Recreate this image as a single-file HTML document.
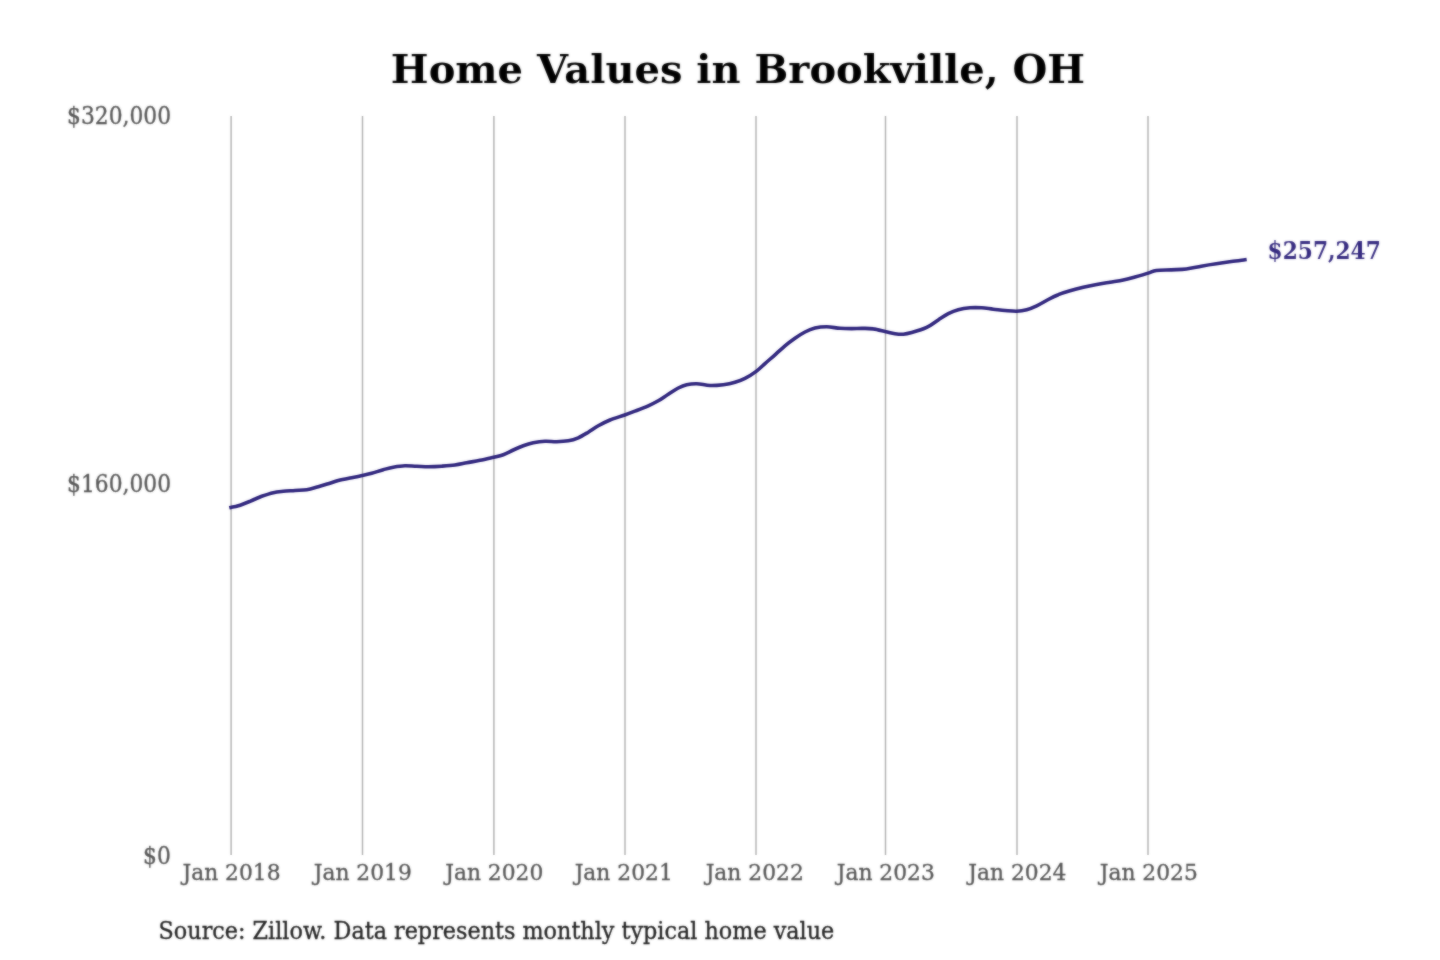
<!DOCTYPE html>
<html lang="en">
<head>
<meta charset="utf-8">
<title>Home Values in Brookville, OH</title>
<style>
html,body{margin:0;padding:0;background:#fff;}
body{width:1440px;height:960px;overflow:hidden;position:relative;font-family:"DejaVu Serif","Liberation Serif",serif;}
svg{position:absolute;left:0;top:0;display:block;}
svg text{font-family:"DejaVu Serif","Liberation Serif",serif;}
.title{font-size:40px;font-weight:bold;fill:#000;text-anchor:middle;}
.grid line{stroke:#b4b4b4;stroke-width:1.5;}

.xl text{font-size:21.8px;fill:#555;text-anchor:middle;stroke:#555;stroke-width:0.3;}
.yl text{font-size:21.8px;fill:#555;text-anchor:end;stroke:#555;stroke-width:0.3;}
.val{font-size:21.7px;font-weight:bold;fill:#34297f;}
.src{font-size:22.3px;fill:#222;stroke:#222;stroke-width:0.3;}
.series{fill:none;stroke:#30267e;stroke-width:3.6;stroke-linejoin:round;stroke-linecap:square;}
</style>
</head>
<body>
<svg width="1440" height="960" viewBox="0 0 1440 960">
<rect width="1440" height="960" fill="#ffffff"/>
<defs>
<filter id="fg" filterUnits="userSpaceOnUse" x="0" y="0" width="1440" height="960" color-interpolation-filters="sRGB"><feGaussianBlur stdDeviation="1" result="b"/><feComposite in="SourceGraphic" in2="b" operator="arithmetic" k1="0" k2="0.55" k3="0.45" k4="0"/></filter>
<filter id="fl" filterUnits="userSpaceOnUse" x="0" y="0" width="1440" height="960" color-interpolation-filters="sRGB"><feGaussianBlur stdDeviation="1" result="b"/><feComposite in="SourceGraphic" in2="b" operator="arithmetic" k1="0" k2="0.55" k3="0.45" k4="0"/></filter>
<filter id="bt" filterUnits="userSpaceOnUse" x="0" y="0" width="1440" height="960" color-interpolation-filters="sRGB"><feGaussianBlur stdDeviation="1" result="b"/><feComposite in="SourceGraphic" in2="b" operator="arithmetic" k1="0" k2="0.45" k3="0.55" k4="0"/></filter>
</defs>
<g class="grid" filter="url(#fg)">
<line x1="231.1" y1="116" x2="231.1" y2="855"/>
<line x1="362.5" y1="116" x2="362.5" y2="855"/>
<line x1="493.9" y1="116" x2="493.9" y2="855"/>
<line x1="625.0" y1="116" x2="625.0" y2="855"/>
<line x1="756.0" y1="116" x2="756.0" y2="855"/>
<line x1="885.5" y1="116" x2="885.5" y2="855"/>
<line x1="1017.0" y1="116" x2="1017.0" y2="855"/>
<line x1="1148.0" y1="116" x2="1148.0" y2="855"/>
</g>
<path class="series" filter="url(#fl)" d="M231.0,507.4C232.2,507.1 235.1,506.8 238.3,505.8C241.5,504.8 246.1,502.9 250.0,501.3C253.9,499.7 257.8,497.7 261.7,496.3C265.6,494.9 269.7,493.5 273.3,492.7C276.9,491.9 279.7,491.7 283.3,491.3C286.9,490.9 291.1,490.8 295.0,490.5C298.9,490.2 302.8,490.3 306.7,489.7C310.6,489.1 314.7,487.7 318.3,486.7C321.9,485.7 325.0,484.7 328.3,483.7C331.6,482.7 334.7,481.4 338.3,480.5C341.9,479.6 346.0,478.8 350.0,478.0C354.0,477.2 358.9,476.3 362.5,475.5C366.1,474.7 368.2,474.3 371.7,473.3C375.2,472.3 379.7,470.7 383.3,469.7C386.9,468.7 389.7,467.8 393.3,467.2C396.9,466.6 401.1,465.9 405.0,465.8C408.9,465.7 412.8,466.2 416.7,466.3C420.6,466.4 424.1,466.7 428.3,466.7C432.5,466.7 437.2,466.5 441.7,466.2C446.1,465.9 450.8,465.6 455.0,465.0C459.2,464.4 462.5,463.6 466.7,462.8C470.9,462.0 475.5,461.2 480.0,460.3C484.5,459.4 489.8,458.1 493.7,457.2C497.6,456.3 500.0,455.9 503.3,454.7C506.6,453.5 510.0,451.5 513.3,450.0C516.6,448.5 520.0,447.0 523.3,445.8C526.6,444.6 529.7,443.6 533.3,442.8C536.9,442.1 541.1,441.5 545.0,441.3C548.9,441.1 552.8,441.8 556.7,441.7C560.6,441.6 564.7,441.4 568.3,440.8C571.9,440.2 575.0,439.2 578.3,437.8C581.6,436.4 585.0,434.2 588.3,432.2C591.6,430.2 594.7,427.8 598.3,425.8C601.9,423.8 605.6,421.8 610.0,420.0C614.4,418.2 620.2,416.6 624.7,415.0C629.2,413.4 632.8,412.0 636.7,410.5C640.6,409.0 644.7,407.4 648.3,405.8C651.9,404.2 655.0,402.7 658.3,400.8C661.6,398.9 665.0,396.3 668.3,394.2C671.6,392.1 675.2,389.6 678.3,388.0C681.4,386.4 683.6,385.4 686.7,384.7C689.8,384.0 692.8,383.6 696.7,383.7C700.6,383.8 705.6,385.3 710.0,385.5C714.4,385.7 719.1,385.2 723.3,384.7C727.5,384.2 731.4,383.4 735.0,382.3C738.6,381.2 741.5,380.2 745.0,378.4C748.5,376.6 752.9,373.9 756.2,371.4C759.5,368.9 761.9,366.4 765.0,363.6C768.1,360.8 771.7,357.8 775.0,354.8C778.3,351.8 781.7,348.6 785.0,345.8C788.3,343.0 791.7,340.5 795.0,338.2C798.3,335.9 801.7,333.7 805.0,332.0C808.3,330.3 811.4,329.0 815.0,328.1C818.6,327.2 822.5,326.8 826.7,326.8C830.9,326.8 835.8,328.0 840.0,328.3C844.2,328.6 847.8,328.6 851.7,328.6C855.6,328.6 859.7,328.3 863.3,328.4C866.9,328.4 869.5,328.3 873.3,328.9C877.0,329.4 882.2,330.9 885.8,331.7C889.4,332.5 892.1,333.3 895.0,333.7C897.9,334.1 900.5,334.4 903.3,334.2C906.1,334.0 907.8,333.6 911.7,332.5C915.6,331.4 922.3,329.5 926.7,327.4C931.1,325.3 934.7,322.2 938.3,319.9C941.9,317.6 945.0,315.4 948.3,313.7C951.6,312.0 954.7,310.7 958.3,309.7C961.9,308.7 966.1,308.1 970.0,307.8C973.9,307.5 977.8,307.6 981.7,307.8C985.6,308.0 989.4,308.8 993.3,309.2C997.2,309.6 1001.1,310.2 1005.0,310.5C1008.9,310.8 1013.1,311.3 1016.7,311.2C1020.3,311.1 1023.4,310.6 1026.7,309.7C1030.0,308.8 1033.1,307.5 1036.7,305.8C1040.3,304.1 1044.7,301.4 1048.3,299.5C1051.9,297.6 1054.7,296.1 1058.3,294.7C1061.9,293.2 1065.8,292.0 1070.0,290.8C1074.2,289.6 1078.8,288.4 1083.3,287.3C1087.8,286.2 1092.2,285.2 1096.7,284.4C1101.2,283.5 1105.6,282.9 1110.0,282.2C1114.4,281.5 1119.1,281.0 1123.3,280.1C1127.5,279.2 1130.8,278.2 1135.0,277.0C1139.2,275.8 1144.7,274.2 1148.2,273.1C1151.8,272.0 1152.5,271.0 1156.3,270.5C1160.1,270.0 1166.3,270.1 1171.3,269.9C1176.3,269.6 1181.3,269.6 1186.3,269.0C1191.3,268.4 1196.3,267.1 1201.3,266.2C1206.3,265.3 1211.3,264.5 1216.3,263.8C1221.3,263.0 1226.5,262.2 1231.3,261.5C1236.1,260.8 1242.6,260.1 1244.9,259.8"/>
<g class="txt" filter="url(#bt)">
<text class="title" transform="translate(738.00,83.00) scale(1,0.97)">Home Values in Brookville, OH</text>
<g class="yl">
<text transform="translate(171.10,124.10) scale(1,1.09)">$320,000</text>
<text transform="translate(171.10,492.00) scale(1,1.09)">$160,000</text>
<text transform="translate(170.80,863.60) scale(1,1.09)">$0</text>
</g>
<g class="xl">
<text transform="translate(231.50,879.50) scale(1,1.05)">Jan 2018</text>
<text transform="translate(362.75,879.50) scale(1,1.05)">Jan 2019</text>
<text transform="translate(494.25,879.50) scale(1,1.05)">Jan 2020</text>
<text transform="translate(623.70,879.50) scale(1,1.05)">Jan 2021</text>
<text transform="translate(754.70,879.50) scale(1,1.05)">Jan 2022</text>
<text transform="translate(885.75,879.50) scale(1,1.05)">Jan 2023</text>
<text transform="translate(1017.35,879.50) scale(1,1.05)">Jan 2024</text>
<text transform="translate(1148.75,879.50) scale(1,1.05)">Jan 2025</text>
</g>
<text class="val" transform="translate(1267.60,258.60) scale(1,1.09)">$257,247</text>
<text class="src" transform="translate(158.60,938.50) scale(1,1.05)">Source: Zillow. Data represents monthly typical home value</text>
</g>
</svg>
</body>
</html>
